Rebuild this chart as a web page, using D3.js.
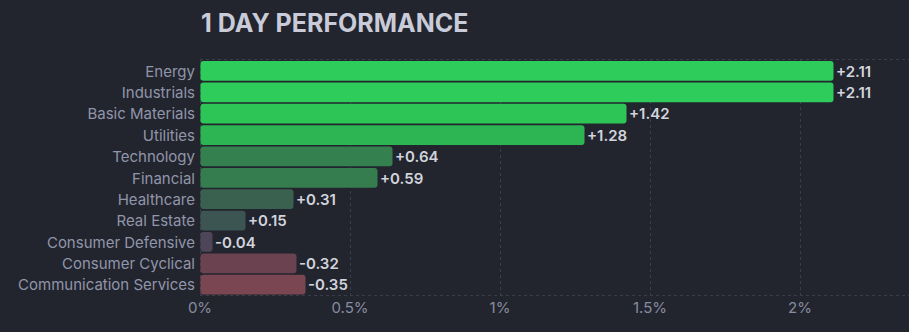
<!DOCTYPE html>
<html><head><meta charset="utf-8">
<script src="https://cdn.jsdelivr.net/npm/d3@7"></script>
<style>
html,body{margin:0;padding:0;background:#22252e;}
svg{display:block;}
text{font-family:Inter, "Noto Sans", sans-serif;}
</style></head>
<body>
<svg id="c" width="909" height="332"></svg>
<script>
const title = "1 DAY PERFORMANCE";
const sectors = ["Energy","Industrials","Basic Materials","Utilities","Technology","Financial","Healthcare","Real Estate","Consumer Defensive","Consumer Cyclical","Communication Services"];
const changes = [2.11, 2.11, 1.42, 1.28, 0.64, 0.59, 0.31, 0.15, -0.04, -0.32, -0.35];
const tickValues = [0, 0.5, 1, 1.5, 2];
const tickLabels = ["0%", "0.5%", "1%", "1.5%", "2%"];

const svg = d3.select("#c");
const W = 909, H = 332;
const x = d3.scaleLinear().domain([0, 709/300]).range([200, 909]);
const y = d3.scaleBand().domain(sectors).range([60.6, 295]).paddingInner(0.075).paddingOuter(0.02);
const color = d3.scaleLinear()
  .domain([-0.35, -0.32, -0.04, 0.15, 0.31, 0.62, 1.28, 1.42, 2.11])
  .range(["#7a4652", "#6b4350", "#4e4658", "#3d5552", "#3a6150", "#347f4f", "#2db553", "#2ec557", "#2ecc5b"]);

svg.append("text").attr("x", 201).attr("y", 32).attr("fill", "#c9cbd8")
  .attr("font-size", 25).attr("font-weight", 700).text(title);

const grid = svg.append("g").attr("stroke", "#3a3e4b").attr("stroke-dasharray", "3,3").attr("stroke-width", 1);
grid.selectAll("line.v").data(tickValues).enter().append("line")
  .attr("x1", d => Math.round(x(d)) + 0.5).attr("x2", d => Math.round(x(d)) + 0.5)
  .attr("y1", 59).attr("y2", 295);
grid.append("line").attr("x1", 200).attr("x2", W).attr("y1", 59.5).attr("y2", 59.5);
grid.append("line").attr("x1", 200).attr("x2", W).attr("y1", 295.5).attr("y2", 295.5);

svg.append("g").selectAll("text").data(tickValues).enter().append("text")
  .attr("x", d => x(d)).attr("y", 312.5).attr("text-anchor", "middle")
  .attr("fill", "#878ca0").attr("font-size", 15).text((d, i) => tickLabels[i]);

const rows = sectors.map((s, i) => ({s, v: changes[i]}));
svg.append("g").selectAll("rect").data(rows).enter().append("rect")
  .attr("x", x(0) + 0.5).attr("y", d => y(d.s))
  .attr("width", d => x(Math.abs(d.v)) - x(0)).attr("height", y.bandwidth())
  .attr("rx", 3).attr("fill", d => color(d.v));

svg.append("g").selectAll("text").data(rows).enter().append("text")
  .attr("x", 195).attr("y", d => y(d.s) + y.bandwidth()/2 + 0.5).attr("dy", "0.35em")
  .attr("text-anchor", "end").attr("fill", "#9195aa").attr("font-size", 15)
  .text(d => d.s);

svg.append("g").selectAll("text").data(rows).enter().append("text")
  .attr("x", d => x(Math.abs(d.v)) + 3).attr("y", d => y(d.s) + y.bandwidth()/2 + 0.5).attr("dy", "0.35em")
  .attr("fill", "#d2d4dc").attr("font-size", 15).attr("font-weight", 600)
  .text(d => (d.v >= 0 ? "+" : "-") + Math.abs(d.v).toFixed(2));
</script>
</body></html>
